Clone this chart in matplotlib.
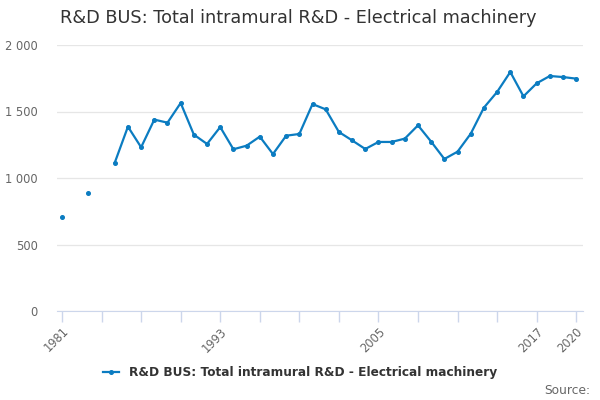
import matplotlib.pyplot as plt
from matplotlib.ticker import FuncFormatter
import numpy as np

years = list(range(1981, 2021))
values = [709, np.nan, 887, np.nan, 1115, 1386, 1231, 1439, 1416, 1564,
          1326, 1256, 1383, 1216, 1243, 1311, 1180, 1318, 1331, 1556,
          1516, 1346, 1283, 1218, 1271, 1271, 1296, 1396, 1273, 1143,
          1198, 1333, 1529, 1647, 1797, 1614, 1712, 1767, 1759, 1747]
tick_years = list(range(1981, 2021, 3))
label_years = [1981, 1993, 2005, 2017, 2020]
series_name = "R&D BUS: Total intramural R&D - Electrical machinery"
title = "R&D BUS: Total intramural R&D - Electrical machinery"

blue = '#0b7cc1'

fig = plt.figure(figsize=(6, 4), dpi=100)
ax = fig.add_axes([0.095, 0.2225, 0.877, 0.665])

ax.plot(years, values, color=blue, lw=1.6, marker='o', markersize=2.6,
        label=series_name, zorder=3)

ax.set_xlim(1980.62, 2020.53)
ax.set_ylim(0, 2000)
ax.set_yticks([0, 500, 1000, 1500, 2000])
ax.yaxis.set_major_formatter(FuncFormatter(lambda v, p: f"{int(v):,}".replace(",", " ")))
ax.grid(axis='y', color='#e6e6e6', lw=0.9)
ax.set_axisbelow(True)

ax.set_xticks(tick_years)
ax.set_xticklabels([str(y) if y in label_years else '' for y in tick_years],
                   rotation=45, ha='right', rotation_mode='anchor')
ax.set_xticks(label_years, minor=True)
ax.tick_params(axis='x', which='major', length=8, color='#ccd6eb', width=1,
               labelcolor='#666666', labelsize=8.3, pad=2)
ax.tick_params(axis='x', which='minor', length=8, color='#ccd6eb', width=1,
               labelbottom=False)
ax.tick_params(axis='y', length=0, labelcolor='#666666', labelsize=8.3, pad=14)

for s in ['top', 'right', 'left']:
    ax.spines[s].set_visible(False)
ax.spines['bottom'].set_color('#ccd6eb')

fig.text(0.1, 0.955, title, fontsize=12.7, color='#333333', va='center')

leg = fig.legend(loc='center', bbox_to_anchor=(0.5, 0.068), frameon=False,
                 handlelength=1.3, prop={'weight': 'bold', 'size': 8.7})
for t in leg.get_texts():
    t.set_color('#333333')

fig.text(0.983, 0.025, "Source:", fontsize=8.8, color='#666666', ha='right', va='center')

fig.savefig('out.png', dpi=100)
